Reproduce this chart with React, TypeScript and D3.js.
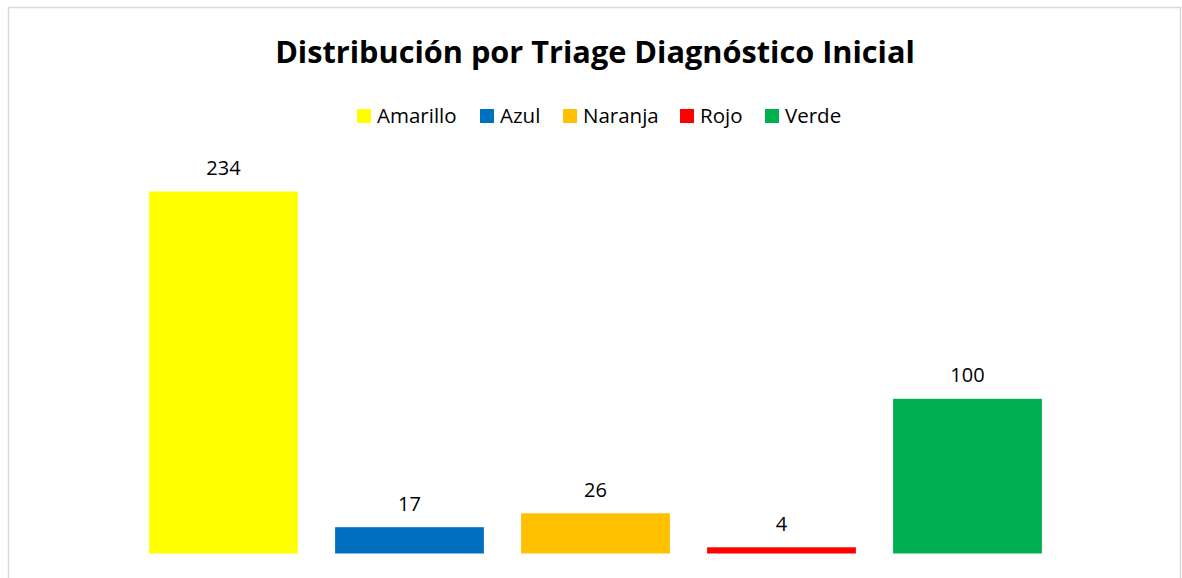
import React from 'react';
import * as d3 from 'd3';

const categories = ['Amarillo', 'Azul', 'Naranja', 'Rojo', 'Verde'];
const values = [234, 17, 26, 4, 100];
const colors = ['#ffff00', '#0070c0', '#ffc000', '#ff0000', '#00b050'];

const W = 1182;
const H = 578;
const FONT = "'Open Sans', 'Noto Sans', sans-serif";

export default function App() {
  // plot area in page pixels
  const x = d3.scaleBand<string>().domain(categories).range([130.5, 1060.5]).paddingInner(0.2).paddingOuter(0.1);
  const y = d3.scaleLinear().domain([0, 234]).range([553.5, 191.5]);
  const color = d3.scaleOrdinal<string, string>().domain(categories).range(colors);

  // legend entry spacing (approximate text widths + gap)
  const legendWidths = [123, 83, 117, 85];
  const legendX = d3.cumsum([357, ...legendWidths]);

  return (
    <svg
      width={W}
      height={H}
      style={{ position: 'absolute', left: 0, top: 0, background: '#fff' }}
      fontFamily={FONT}
    >
      <rect x={8.5} y={7.5} width={1172} height={590} fill="#fff" stroke="#d9d9d9" strokeWidth={1.5} />
      <text x={595} y={63} textAnchor="middle" fontSize={30.7} fontWeight="bold" fill="#000">
        Distribución por Triage Diagnóstico Inicial
      </text>
      <g>
        {categories.map((c, i) => (
          <g key={c} transform={`translate(${legendX[i]},0)`}>
            <rect x={0} y={109} width={14} height={14} fill={color(c)} />
            <text x={20} y={123} fontSize={20.5} fill="#000">
              {c}
            </text>
          </g>
        ))}
      </g>
      <g>
        {categories.map((c, i) => (
          <g key={c}>
            <rect
              x={x(c)}
              y={y(values[i])}
              width={x.bandwidth()}
              height={y(0) - y(values[i])}
              fill={color(c)}
            />
            <text
              x={(x(c) as number) + x.bandwidth() / 2}
              y={y(values[i]) - 16.5}
              textAnchor="middle"
              fontSize={20}
              fill="#000"
            >
              {values[i]}
            </text>
          </g>
        ))}
      </g>
    </svg>
  );
}
